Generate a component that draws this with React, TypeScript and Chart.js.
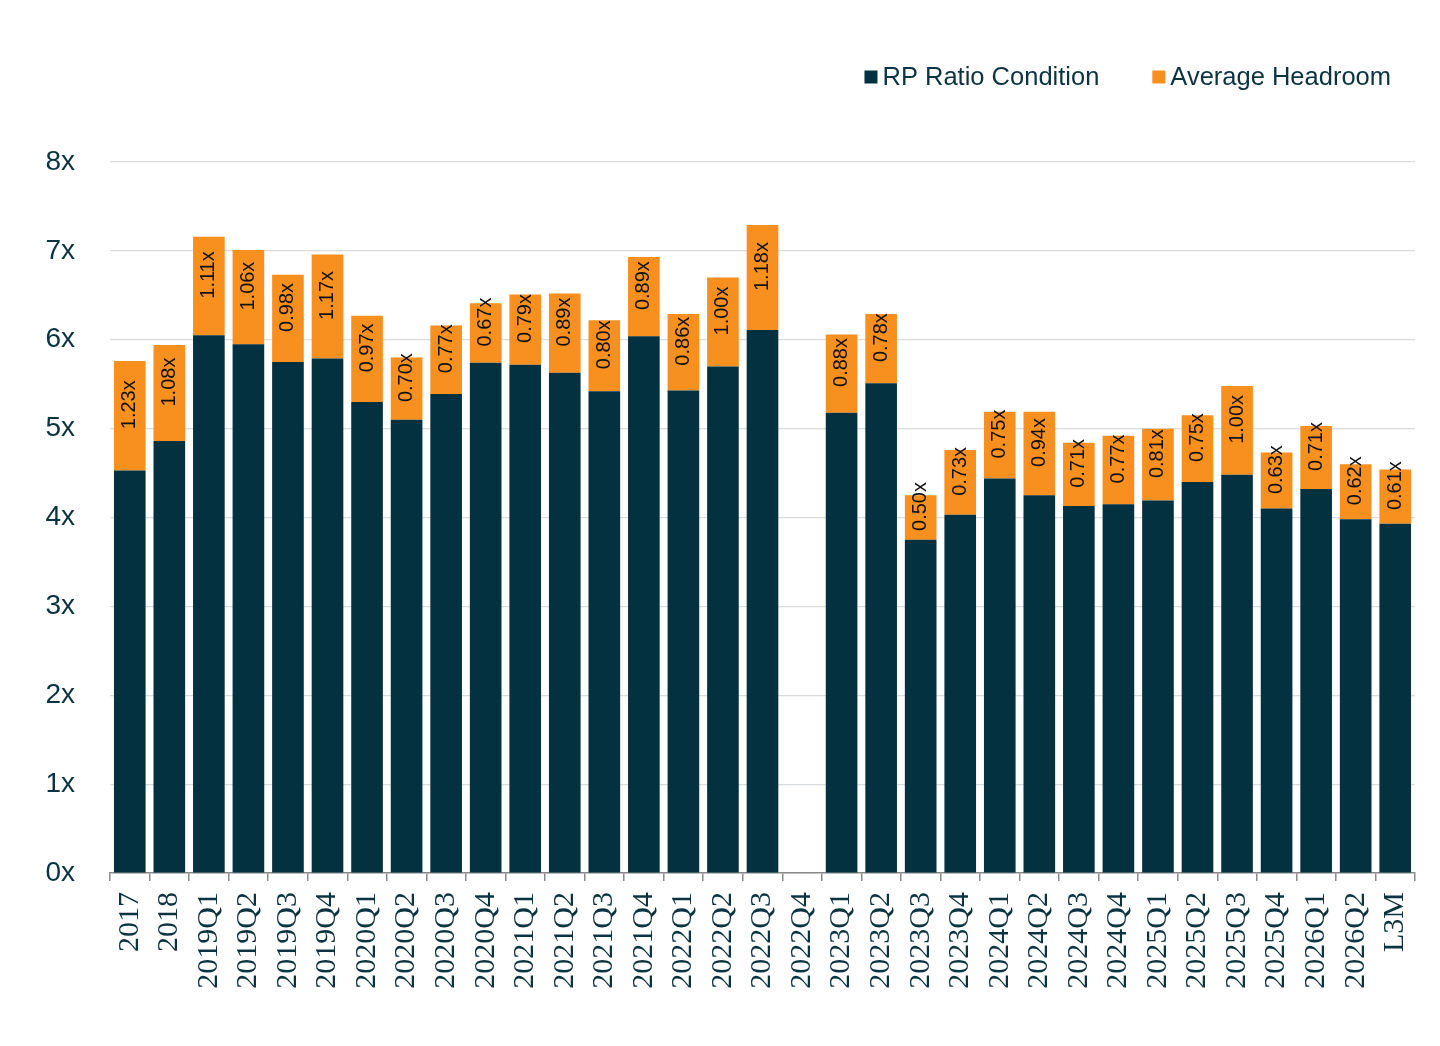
import React, { useEffect, useRef } from "react";
import { Chart, registerables } from "chart.js";

Chart.register(...registerables);

const categories = [
  "2017", "2018", "2019Q1", "2019Q2", "2019Q3", "2019Q4", "2020Q1", "2020Q2", "2020Q3", "2020Q4",
  "2021Q1", "2021Q2", "2021Q3", "2021Q4", "2022Q1", "2022Q2", "2022Q3", "2022Q4", "2023Q1", "2023Q2",
  "2023Q3", "2023Q4", "2024Q1", "2024Q2", "2024Q3", "2024Q4", "2025Q1", "2025Q2", "2025Q3", "2025Q4",
  "2026Q1", "2026Q2", "L3M",
];

const rpRatioCondition: (number | null)[] = [
  4.53, 4.86, 6.05, 5.95, 5.75, 5.79, 5.30, 5.10, 5.39, 5.74,
  5.72, 5.63, 5.42, 6.04, 5.43, 5.70, 6.11, null, 5.18, 5.51,
  3.75, 4.03, 4.44, 4.25, 4.13, 4.15, 4.19, 4.40, 4.48, 4.10,
  4.32, 3.98, 3.93,
];

const averageHeadroom: (number | null)[] = [
  1.23, 1.08, 1.11, 1.06, 0.98, 1.17, 0.97, 0.70, 0.77, 0.67,
  0.79, 0.89, 0.80, 0.89, 0.86, 1.00, 1.18, null, 0.88, 0.78,
  0.50, 0.73, 0.75, 0.94, 0.71, 0.77, 0.81, 0.75, 1.00, 0.63,
  0.71, 0.62, 0.61,
];

const yTicks = [0, 1, 2, 3, 4, 5, 6, 7, 8];

const DARK = "#03313f";
const ORANGE = "#f7901e";
const TEXT = "#0b3340";

const headroomLabels = {
  id: "headroomLabels",
  afterDatasetsDraw(chart: any) {
    const meta = chart.getDatasetMeta(1);
    const data = chart.data.datasets[1].data as (number | null)[];
    const ctx = chart.ctx;
    ctx.save();
    ctx.font = "20px 'Liberation Sans', Arial, sans-serif";
    ctx.fillStyle = "#111111";
    ctx.textAlign = "center";
    ctx.textBaseline = "middle";
    meta.data.forEach((el: any, i: number) => {
      const v = data[i];
      if (v == null) return;
      const cy = (el.y + el.base) / 2 - 11;
      ctx.save();
      ctx.translate(el.x, cy);
      ctx.rotate(-Math.PI / 2);
      ctx.fillText(v.toFixed(2) + "x", 0, 0);
      ctx.restore();
    });
    ctx.restore();
  },
};

const customLegend = {
  id: "customLegend",
  afterDraw(chart: any) {
    const ctx = chart.ctx;
    const ds = chart.data.datasets;
    ctx.save();
    ctx.font = "25.5px 'Liberation Sans', Arial, sans-serif";
    ctx.textBaseline = "middle";
    ctx.textAlign = "left";
    const box = 13;
    const gapBoxText = 5;
    const gapItems = 53;
    const widths = ds.map((d: any) => box + gapBoxText + ctx.measureText(d.label).width);
    const total = widths.reduce((a: number, b: number) => a + b, 0) + gapItems * (ds.length - 1);
    let x = chart.chartArea.right - 24 - total;
    const cy = 77;
    ds.forEach((d: any, i: number) => {
      ctx.fillStyle = d.backgroundColor;
      ctx.fillRect(x, cy - box / 2, box, box);
      ctx.fillStyle = TEXT;
      ctx.fillText(d.label, x + box + gapBoxText, cy + 1);
      x += widths[i] + gapItems;
    });
    ctx.restore();
  },
};

export default function App() {
  const canvasRef = useRef<HTMLCanvasElement>(null);

  useEffect(() => {
    if (!canvasRef.current) return;
    const chart = new Chart(canvasRef.current, {
      type: "bar",
      data: {
        labels: categories,
        datasets: [
          {
            label: "RP Ratio Condition",
            data: rpRatioCondition,
            backgroundColor: DARK,
            barPercentage: 0.8,
            categoryPercentage: 1,
          },
          {
            label: "Average Headroom",
            data: averageHeadroom,
            backgroundColor: ORANGE,
            barPercentage: 0.8,
            categoryPercentage: 1,
          },
        ],
      },
      options: {
        animation: false,
        responsive: true,
        maintainAspectRatio: false,
        layout: { padding: { top: 162, right: 25, left: 0, bottom: 0 } },
        plugins: {
          legend: { display: false },
          tooltip: { enabled: false },
        },
        scales: {
          x: {
            stacked: true,
            afterFit: (s: any) => {
              s.height = 173;
              s.paddingLeft = 0;
              s.paddingRight = 0;
            },
            grid: {
              offset: true,
              drawOnChartArea: false,
              drawTicks: true,
              tickLength: 8,
              color: "#8a8a8a",
              lineWidth: 1.5,
            },
            border: { display: true, color: "#8a8a8a", width: 1.5 },
            ticks: {
              autoSkip: false,
              maxRotation: 90,
              minRotation: 90,
              padding: 11,
              color: TEXT,
              font: { family: "'Liberation Serif', 'Times New Roman', serif", size: 30 },
            },
          },
          y: {
            stacked: true,
            min: yTicks[0],
            max: yTicks[yTicks.length - 1],
            afterFit: (s: any) => {
              s.width = 110;
            },
            afterBuildTicks: (s: any) => {
              s.ticks = yTicks.map((v) => ({ value: v }));
            },
            grid: { color: "#d8dcde", lineWidth: 1.2, drawTicks: false },
            border: { display: false },
            ticks: {
              padding: 35,
              color: TEXT,
              font: { family: "'Liberation Sans', Arial, sans-serif", size: 28 },
              callback: (v: any) => v + "x",
            },
          },
        },
      },
      plugins: [headroomLabels, customLegend],
    });
    return () => chart.destroy();
  }, []);

  return (
    <div style={{ position: "fixed", left: 0, top: 0, width: 1440, height: 1046, background: "#fff" }}>
      <canvas ref={canvasRef} />
    </div>
  );
}
